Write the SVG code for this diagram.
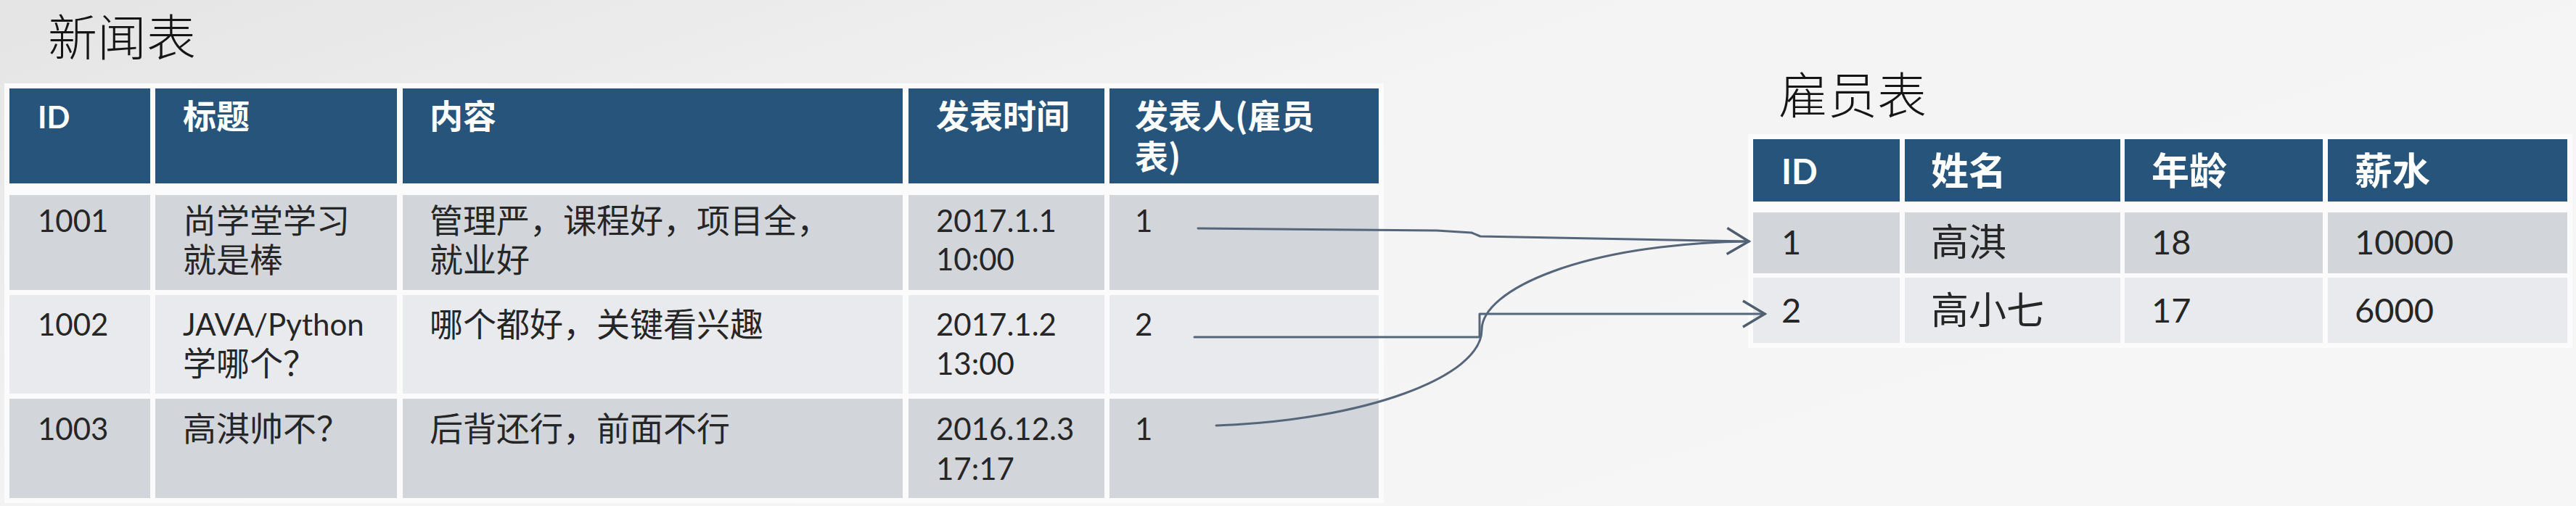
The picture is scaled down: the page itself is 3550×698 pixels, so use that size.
<svg xmlns="http://www.w3.org/2000/svg" width="3550" height="698" viewBox="0 0 3550 698">
  <defs>
    <linearGradient id="bg" x1="0" y1="0" x2="1" y2="0.6">
      <stop offset="0" stop-color="#E4E4E4"/>
      <stop offset="0.45" stop-color="#F3F3F3"/>
      <stop offset="1" stop-color="#F6F6F6"/>
    </linearGradient>
    <marker id="arrow" markerUnits="userSpaceOnUse" markerWidth="40" markerHeight="44" viewBox="-34 -22 40 44" refX="0" refY="0" orient="auto">
      <path d="M-30,-18 L0,0 L-30,18" fill="none" stroke="#4E5E6E" stroke-width="3.5" stroke-linejoin="miter"/>
    </marker>
    <style>
      .title { font-family: "Noto Sans CJK SC", sans-serif; font-weight: 300; font-size: 68px; fill: #151515; }
      .hd { fill: #26547A; }
      .r1 { fill: #D2D5DA; }
      .r2 { fill: #E9EAEE; }
      .back { fill: #FBFBFB; }
      .hc { font-family: "Noto Sans CJK SC", sans-serif; font-weight: 700; font-size: 46px; fill: #FFFFFF; }
      .hl { font-family: Lato, "Noto Sans CJK SC", sans-serif; font-weight: 700; font-size: 42px; fill: #FFFFFF; }
      .bc { font-family: "Noto Sans CJK SC", sans-serif; font-weight: 400; font-size: 46px; fill: #262626; }
      .bl { font-family: Lato, "Noto Sans CJK SC", sans-serif; font-weight: 400; font-size: 42px; fill: #262626; }
      .ehc { font-family: "Noto Sans CJK SC", sans-serif; font-weight: 700; font-size: 52px; fill: #FFFFFF; }
      .ehl { font-family: Lato, "Noto Sans CJK SC", sans-serif; font-weight: 700; font-size: 47px; fill: #FFFFFF; }
      .ebc { font-family: "Noto Sans CJK SC", sans-serif; font-weight: 400; font-size: 52px; fill: #262626; }
      .ebl { font-family: Lato, "Noto Sans CJK SC", sans-serif; font-weight: 400; font-size: 47px; fill: #262626; }
      .conn { fill: none; stroke: #56667A; stroke-width: 3; stroke-linejoin: round; stroke-linecap: round; }
    </style>
  </defs>

  <rect x="0" y="0" width="3550" height="698" fill="url(#bg)"/>

  <g id="news-title">
    <text class="title" x="66" y="77">新闻表</text>
  </g>

  <g id="news-table">
    <rect class="back" x="6" y="115" width="1901" height="579"/>
    <g id="news-header">
      <rect class="hd" x="13" y="122" width="194" height="131"/>
      <rect class="hd" x="214" y="122" width="333" height="131"/>
      <rect class="hd" x="555" y="122" width="689" height="131"/>
      <rect class="hd" x="1252" y="122" width="270" height="131"/>
      <rect class="hd" x="1529" y="122" width="371" height="131"/>
      <text class="hl" x="52" y="177">ID</text>
      <text class="hc" x="252" y="177">标题</text>
      <text class="hc" x="592" y="177">内容</text>
      <text class="hc" x="1290" y="177">发表时间</text>
      <text class="hc" x="1564" y="177">发表人(雇员<tspan x="1564" dy="56">表)</tspan></text>
    </g>
    <g id="news-row-1001">
      <rect class="r1" x="13" y="269" width="194" height="131"/>
      <rect class="r1" x="214" y="269" width="333" height="131"/>
      <rect class="r1" x="555" y="269" width="689" height="131"/>
      <rect class="r1" x="1252" y="269" width="270" height="131"/>
      <rect class="r1" x="1529" y="269" width="371" height="131"/>
      <text class="bl" x="52" y="320">1001</text>
      <text class="bc" x="252" y="321">尚学堂学习<tspan x="252" dy="54">就是棒</tspan></text>
      <text class="bc" x="592" y="321">管理严，课程好，项目全，<tspan x="592" dy="54">就业好</tspan></text>
      <text class="bl" x="1290" y="320">2017.1.1<tspan x="1290" dy="53">10:00</tspan></text>
      <text class="bl" x="1564" y="320">1</text>
    </g>
    <g id="news-row-1002">
      <rect class="r2" x="13" y="407" width="194" height="136"/>
      <rect class="r2" x="214" y="407" width="333" height="136"/>
      <rect class="r2" x="555" y="407" width="689" height="136"/>
      <rect class="r2" x="1252" y="407" width="270" height="136"/>
      <rect class="r2" x="1529" y="407" width="371" height="136"/>
      <text class="bl" x="52" y="463">1002</text>
      <text class="bl" x="252" y="463">JAVA/Python<tspan class="bc" x="252" dy="55">学哪个？</tspan></text>
      <text class="bc" x="592" y="464">哪个都好，关键看兴趣</text>
      <text class="bl" x="1290" y="463">2017.1.2<tspan x="1290" dy="54">13:00</tspan></text>
      <text class="bl" x="1564" y="463">2</text>
    </g>
    <g id="news-row-1003">
      <rect class="r1" x="13" y="550" width="194" height="137"/>
      <rect class="r1" x="214" y="550" width="333" height="137"/>
      <rect class="r1" x="555" y="550" width="689" height="137"/>
      <rect class="r1" x="1252" y="550" width="270" height="137"/>
      <rect class="r1" x="1529" y="550" width="371" height="137"/>
      <text class="bl" x="52" y="607">1003</text>
      <text class="bc" x="252" y="608">高淇帅不？</text>
      <text class="bc" x="592" y="608">后背还行，前面不行</text>
      <text class="bl" x="1290" y="607">2016.12.3<tspan x="1290" dy="55">17:17</tspan></text>
      <text class="bl" x="1564" y="607">1</text>
    </g>
  </g>

  <g id="employee-title">
    <text class="title" x="2451" y="157">雇员表</text>
  </g>

  <g id="employee-table">
    <rect class="back" x="2409" y="185" width="1136" height="295"/>
    <g id="employee-header">
      <rect class="hd" x="2416" y="192" width="202" height="86"/>
      <rect class="hd" x="2625" y="192" width="297" height="86"/>
      <rect class="hd" x="2928" y="192" width="273" height="86"/>
      <rect class="hd" x="3208" y="192" width="330" height="86"/>
      <text class="ehl" x="2455" y="254">ID</text>
      <text class="ehc" x="2661" y="255">姓名</text>
      <text class="ehc" x="2965" y="255">年龄</text>
      <text class="ehc" x="3245" y="255">薪水</text>
    </g>
    <g id="employee-row-1">
      <rect class="r1" x="2416" y="293" width="202" height="84"/>
      <rect class="r1" x="2625" y="293" width="297" height="84"/>
      <rect class="r1" x="2928" y="293" width="273" height="84"/>
      <rect class="r1" x="3208" y="293" width="330" height="84"/>
      <text class="ebl" x="2455" y="351">1</text>
      <text class="ebc" x="2661" y="353">高淇</text>
      <text class="ebl" x="2965" y="351">18</text>
      <text class="ebl" x="3245" y="351">10000</text>
    </g>
    <g id="employee-row-2">
      <rect class="r2" x="2416" y="383" width="202" height="90"/>
      <rect class="r2" x="2625" y="383" width="297" height="90"/>
      <rect class="r2" x="2928" y="383" width="273" height="90"/>
      <rect class="r2" x="3208" y="383" width="330" height="90"/>
      <text class="ebl" x="2455" y="445">2</text>
      <text class="ebc" x="2661" y="447">高小七</text>
      <text class="ebl" x="2965" y="445">17</text>
      <text class="ebl" x="3245" y="445">6000</text>
    </g>
  </g>

  <g id="connectors">
    <path class="conn" d="M1651,315 L1980,318 L2028,321 L2040,326 L2410,333" marker-end="url(#arrow)"/>
    <path class="conn" d="M1646,465 L2039,465 L2039,433 L2432,433" marker-end="url(#arrow)"/>
    <path class="conn" d="M1676,587 C1880,580 2042,520 2042,455 C2042,400 2180,336 2410,333"/>
  </g>
</svg>
